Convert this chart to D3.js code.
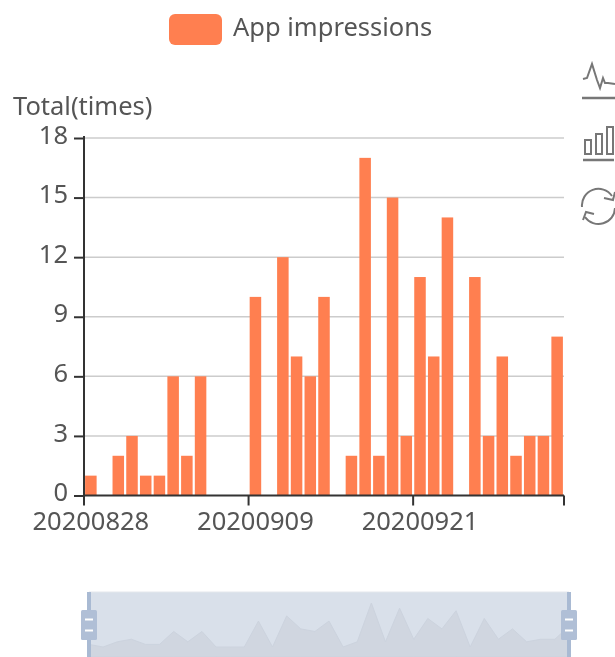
<!DOCTYPE html>
<html lang="en">
<head>
  <meta charset="UTF-8">
  <title>App impressions</title>
  <style>
    html, body { margin: 0; padding: 0; background: #fff; overflow: hidden; }
    svg { display: block; filter: blur(0.5px); }
    text { font-family: "Noto Sans", sans-serif; fill: #555; }
  </style>
</head>
<body>
  <div id="chart"></div>
  <script src="https://d3js.org/d3.v7.min.js"></script>
  <script>
const dates = ['20200828', '20200829', '20200830', '20200831', '20200901', '20200902', '20200903',
  '20200904', '20200905', '20200906', '20200907', '20200908', '20200909', '20200910', '20200911',
  '20200912', '20200913', '20200914', '20200915', '20200916', '20200917', '20200918', '20200919',
  '20200920', '20200921', '20200922', '20200923', '20200924', '20200925', '20200926', '20200927',
  '20200928', '20200929', '20200930', '20201001']
const impressions = [1, 0, 2, 3, 1, 1, 6, 2, 6, 0, 0, 0, 10, 0, 12, 7, 6, 10, 0, 2, 17, 2, 15, 3, 11, 7, 14, 0, 11, 3, 7, 2, 3, 3, 8]
const xTickLabels = ['20200828', '20200909', '20200921']
const yTicks = [0, 3, 6, 9, 12, 15, 18]

const width = 615, height = 657
const color = '#ff7f50'
const grid = {left: 84, right: 564, top: 138, bottom: 495.5}
const slider = {left: 89, right: 569, top: 592, bottom: 657}

const svg = d3.select('#chart').append('svg')
  .attr('width', width)
  .attr('height', height)

const x = d3.scaleBand().domain(dates).range([grid.left, grid.right])
const y = d3.scaleLinear().domain([0, 18]).range([grid.bottom, grid.top])
const step = x.step()
const barInset = step * 0.08

// legend
svg.append('rect')
  .attr('x', 169).attr('y', 14)
  .attr('width', 53).attr('height', 31)
  .attr('rx', 6)
  .attr('fill', color)
svg.append('text')
  .attr('x', 233).attr('y', 36)
  .style('font-size', '25.5px')
  .text('App impressions')

// y axis name
svg.append('text')
  .attr('x', 13).attr('y', 115)
  .style('font-size', '25.5px')
  .text('Total(times)')

// gridlines
svg.append('g')
  .selectAll('line')
  .data(yTicks.filter(d => d > 0))
  .enter()
  .append('line')
    .attr('x1', grid.left)
    .attr('x2', grid.right)
    .attr('y1', d => y(d))
    .attr('y2', d => y(d))
    .attr('stroke', '#ccc')
    .attr('stroke-width', 1.5)

// bars
svg.append('g')
  .selectAll('rect')
  .data(impressions)
  .enter()
  .append('rect')
    .attr('x', (d, i) => x(dates[i]) + barInset)
    .attr('y', d => y(d))
    .attr('width', step - barInset * 2)
    .attr('height', d => y(0) - y(d))
    .attr('fill', color)

// axes
const yAxis = svg.append('g')
  .attr('transform', `translate(${grid.left}, 0)`)
  .call(d3.axisLeft(y).tickValues(yTicks).tickSize(10).tickPadding(6))
const xAxis = svg.append('g')
  .attr('transform', `translate(0, ${grid.bottom})`)
  .call(d3.axisBottom(x).tickValues(xTickLabels).tickSize(10).tickPadding(6))

// ticks sit on the band edges, labels stay centred
xAxis.selectAll('.tick line').attr('x1', -step / 2).attr('x2', -step / 2)
xAxis.append('line')
  .attr('x1', grid.right).attr('x2', grid.right)
  .attr('y1', 0).attr('y2', 10)

for (const axis of [xAxis, yAxis]) {
  axis.selectAll('.domain').remove()
  axis.selectAll('text')
    .attr('fill', null)
    .style('font-size', '25.5px')
    .style('font-family', '"Noto Sans", sans-serif')
}
yAxis.selectAll('text').attr('y', -3)
xAxis.append('line').attr('x1', grid.left).attr('x2', grid.right)
yAxis.append('line').attr('y1', grid.top - 2).attr('y2', grid.bottom)
for (const axis of [xAxis, yAxis]) {
  axis.selectAll('line').attr('stroke', '#333').attr('stroke-width', 2)
}

// data zoom slider
svg.append('rect')
  .attr('x', slider.left).attr('y', slider.top)
  .attr('width', slider.right - slider.left)
  .attr('height', slider.bottom - slider.top)
  .attr('fill', '#d9e0ea')
svg.append('line')
  .attr('x1', slider.left).attr('x2', slider.right)
  .attr('y1', slider.top).attr('y2', slider.top)
  .attr('stroke', '#e4e7ec')

const sx = d3.scalePoint().domain(dates).range([slider.left, slider.right])
const sy = d3.scaleLinear().domain([0, 17]).range([647, 603])
svg.append('path')
  .datum(impressions)
  .attr('d', d3.area()
    .x((d, i) => sx(dates[i]))
    .y0(slider.bottom)
    .y1(d => sy(d)))
  .attr('fill', '#d0d6e0')
  .attr('stroke', '#ccd3de')

for (const hx of [slider.left, slider.right]) {
  const handle = svg.append('g').attr('transform', `translate(${hx}, 0)`)
  handle.append('rect')
    .attr('x', -2).attr('y', slider.top)
    .attr('width', 4).attr('height', slider.bottom - slider.top)
    .attr('fill', '#a9bad3')
  handle.append('rect')
    .attr('x', -8).attr('y', 610)
    .attr('width', 16).attr('height', 30)
    .attr('rx', 1.5)
    .attr('fill', '#b0bfd6')
  handle.selectAll('.dash')
    .data([619.5, 630.5])
    .enter()
    .append('line')
      .attr('x1', -4).attr('x2', 4)
      .attr('y1', d => d).attr('y2', d => d)
      .attr('stroke', '#fff')
      .attr('stroke-width', 2)
}

// toolbox icons, clipped by the right edge
const icons = svg.append('g')
  .attr('fill', 'none')
  .attr('stroke', '#777')
  .attr('stroke-width', 2)
icons.append('path').attr('d', 'M583 79 L587 78 L592 64 L597 80 L600 88 L603 78 L605 83 L608 83 L615 84')
icons.append('line').attr('x1', 582).attr('x2', 615).attr('y1', 98).attr('y2', 98).attr('stroke-width', 2.5)
icons.selectAll('.bar')
  .data([[585, 140], [596, 134], [607, 127]])
  .enter()
  .append('rect')
    .attr('x', d => d[0])
    .attr('y', d => d[1])
    .attr('width', 6)
    .attr('height', d => 154 - d[1])
icons.append('line').attr('x1', 583).attr('x2', 614).attr('y1', 160).attr('y2', 160).attr('stroke-width', 2.5)
icons.append('path').attr('d', 'M582 207 A16.5 16.5 0 0 1 612 196 M585 217 A16.5 16.5 0 0 0 615 208')
icons.append('path').attr('d', 'M604 198 L613 200 L615 192 M583 220 L586 212 L594 214')
  </script>
</body>
</html>
